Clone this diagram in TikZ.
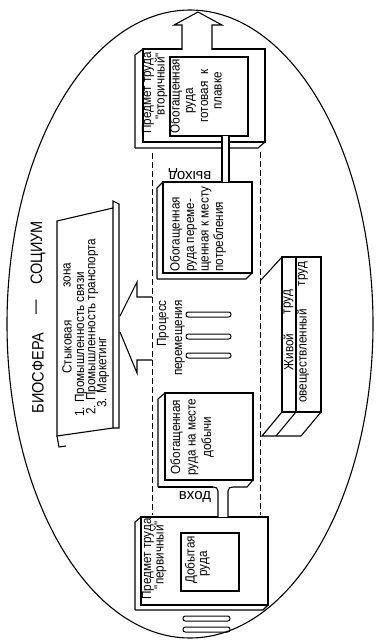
\documentclass[tikz,border=0pt]{standalone}
\usepackage{fontspec}
\newfontfamily\nar{Liberation Sans}[FakeStretch=0.88]
\newfontfamily\lib{Liberation Sans}
\usetikzlibrary{calc}
\tikzset{
  bx/.style={draw, line width=1.1pt, fill=white, inner sep=0pt, outer sep=0pt},
  ln/.style={line width=1.1pt},
  txt/.style={rotate=90, inner sep=0pt, font=\nar\fontsize{13.3}{14.5}\selectfont},
  big/.style={rotate=90, inner sep=0pt, font=\nar\fontsize{16.5}{16}\selectfont},
  lbl/.style={inner sep=0pt, font=\lib\fontsize{15}{15}\selectfont},
  dl/.style={line width=1pt, dash pattern=on 6pt off 3pt},
  bar/.style={draw, line width=1pt, rounded corners=2.4pt},
}
\begin{document}
\begin{tikzpicture}[x=1pt,y=-1pt]
\useasboundingbox (0,0) rectangle (376,641);
\fill[white] (0,0) rectangle (376,641);
% biosphere ellipse
\draw[ln] (190,324) ellipse [x radius=183, y radius=314];
% dashed borders of the transport zone
\coordinate (dla) at (152,153); \coordinate (dlb) at (152,515);
\coordinate (dra) at (260,152); \coordinate (drb) at (260,515);
\draw[dl] (dla) -- (dlb);
\draw[dl] (dra) -- (drb);

% ---------- top box (secondary subject of labour)
\draw[ln] (135,148) -- (135,55) -- (143,49);
\draw[ln] (135,148) -- (258,148) -- (265,142);
\node[bx, minimum width=122pt, minimum height=93pt] (topbox) at (204,95.5) {};
\node[bx, minimum width=78pt, minimum height=79pt] (topin) at (209,96.5) {};
\node[txt] (t1) at (148,93) {Предмет труда};
\node[txt, anchor=east] (t2) at (161,53) {"вторичный"};
\node[txt] (t3) at (176,96) {Обогащенная};
\node[txt] (t4) at (191,101) {руда};
\node[txt] (t5) at (204.5,96) {готовая \ к};
\node[txt] (t6) at (218,91) {плавке};
% output arrow
\draw[ln, fill=white] (182,50) -- (182,25) -- (174,25) -- (198,12) -- (222,25) -- (212,25) -- (212,50);

% ---------- upper middle box
\draw[ln] (157,279) -- (157,188) -- (163,182);
\draw[ln] (157,279) -- (246,279) -- (252,273);
\node[bx, minimum width=89pt, minimum height=91pt] (mu) at (207.5,227.5) {};
\node[txt, align=left] (mut) at (198,229) {Обогащенная\\руда переме-\\щенная к месту\\потребления};
% pipe top
\fill[white] ([xshift=13pt]topin.south) rectangle ([xshift=21.5pt]mu.north);
\draw[ln] ([xshift=13pt]topin.south) -- ([xshift=14.5pt]mu.north);
\draw[ln] ([xshift=20pt]topin.south) -- ([xshift=21.5pt]mu.north);
\node[lbl, rotate=180] (vyh) at (190,174) {выход};

% ---------- process of transportation
\node[txt, anchor=east] (pr1) at (163,300) {Процесс};
\node[txt, anchor=east] (pr2) at (180,300) {перемещения};
\draw[bar] (186,312) rectangle (231,317);
\draw[bar] (186,334) rectangle (231,339);
\draw[bar] (186,353) rectangle (231,358);

% ---------- lower middle box
\draw[ln] (158,487) -- (158,399) -- (165,393);
\draw[ln] (158,487) -- (213,487);
\draw[ln] (233,487) -- (247,487) -- (253,480);
\node[bx, minimum width=88pt, minimum height=87pt] (ml) at (209,436.5) {};
\node[txt, align=center, font=\nar\fontsize{13.3}{15.5}\selectfont] (mlt) at (192,437) {Обогащенная\\руда на месте\\добычи};

% ---------- bottom box (primary subject of labour)
\draw[ln] (135,610) -- (135,522) -- (141,517);
\draw[ln] (135,610) -- (263,610) -- (268,605);
\node[bx, minimum width=127pt, minimum height=88pt] (botbox) at (204.5,561) {};
\node[bx, minimum width=58pt, minimum height=58pt] (botin) at (210,562) {};
\node[txt] (b1) at (148,559) {Предмет труда};
\node[txt, anchor=east] (b2) at (160,521) {"первичный"};
\node[txt] (b3) at (191,560) {Добытая};
\node[txt] (b4) at (205,564) {руда};
% pipe bottom with entry
\fill[white] ([xshift=13.5pt]botbox.north) rectangle (228,489);
\draw[ln] ([xshift=13.5pt]botbox.north) -- (218,491) .. controls (218,488) and (216,487) .. (213,487);
\draw[ln] ([xshift=23.5pt]botbox.north) -- (228,491) .. controls (228,488) and (230,487) .. (233,487);
\node[lbl] (vh) at (195,497) {вход};
\draw[bar] (183,616) rectangle (230,621);
\draw[bar] (183,627) rectangle (230,632);

% ---------- junction zone panel
\draw[ln, fill=white] (57,221) -- (113,208) -- (113,428) -- (57,436) -- cycle;
\draw[ln] (113,208) -- (113,201) -- (119,204) -- (119,428) -- (113,428);
\draw[ln] (57,436) -- (59,447) -- (66,446);
\node[txt] (z1) at (67,347) {Стыковая};
\node[txt] (z2) at (67,275) {зона};
\node[txt, anchor=west] (z3) at (81,417) {1. Промышленность связи};
\node[txt, anchor=west] (z4) at (92,415) {2. Промышленность транспорта};
\node[txt, anchor=west] (z5) at (103,408) {3. Маркетинг};
% hollow arrow to the panel
\draw[ln] (dla |- 0,297) -- (137,297) -- (137,282) -- (120,316);
\draw[ln] (120,332) -- (137,373) -- (137,360) -- (dla |- 0,360);

% ---------- living / materialised labour
\draw[ln] (282,257) -- (261,280);
\draw[ln] (282,412) -- (262,436) -- (301,436) -- (321,412);
\draw[ln] (296,412) -- (276,436);
\node[bx, minimum width=39pt, minimum height=155pt] (live) at (301.5,334.5) {};
\draw[ln] ([xshift=-5.5pt]live.north) -- ([xshift=-5.5pt]live.south);
\node[txt] (l1) at (288.5,352) {Живой};
\node[txt] (l2) at (288.5,302) {труд};
\node[txt] (l3) at (303,356) {овеществленный};
\node[txt] (l4) at (303,274) {труд};

% ---------- title
\node[big] (bio1) at (38,373) {БИОСФЕРА};
\node[big] (bio2) at (38,307) {—};
\node[big] (bio3) at (38,253) {СОЦИУМ};
\end{tikzpicture}
\end{document}
